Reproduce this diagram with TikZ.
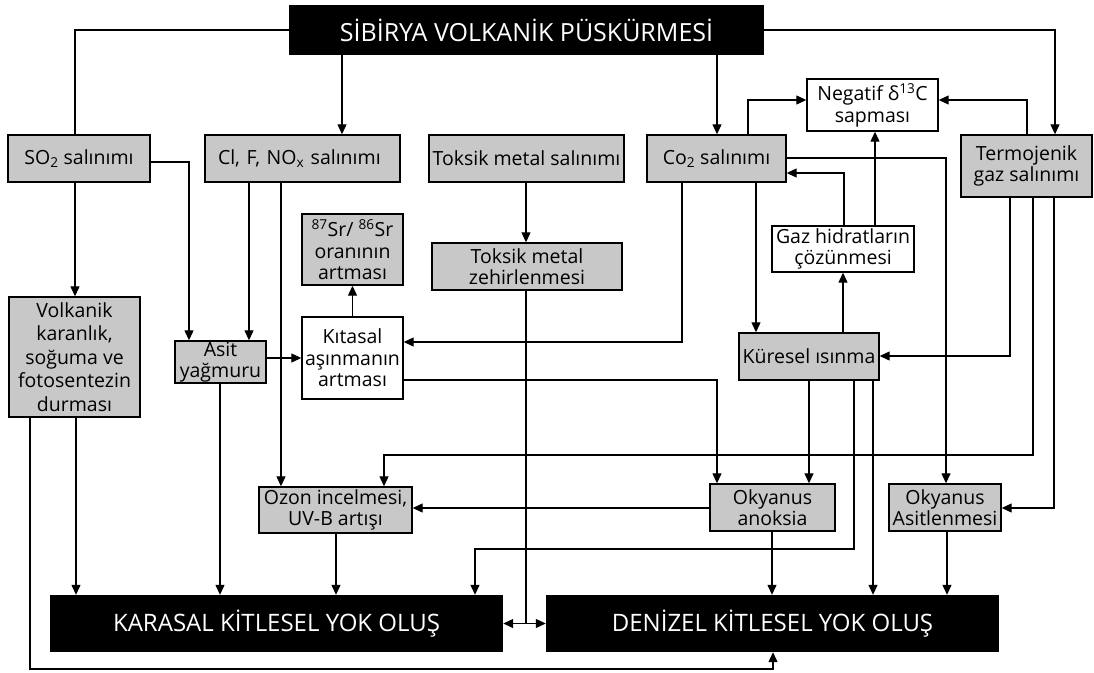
\documentclass[tikz,border=0pt]{standalone}
\usepackage{fontspec}
\setmainfont{Open Sans}
\usetikzlibrary{arrows.meta}
\definecolor{boxgray}{RGB}{200,200,200}
\tikzset{
 base/.style={draw=black, line width=1.4pt, align=center, inner sep=0pt, font=\fontsize{19.5}{21.5}\selectfont},
 gbox/.style={base, fill=boxgray},
 wbox/.style={base, fill=white},
 bbox/.style={fill=black, text=white, inner sep=0pt, font=\fontsize{24}{28}\selectfont},
 ln/.style={line width=1.2pt},
 arr/.style={ln, -{Triangle[length=10pt,width=9pt]}},
 dbl/.style={ln, {Triangle[length=10pt,width=9pt]}-{Triangle[length=10pt,width=9pt]}},
}
\begin{document}
\begin{tikzpicture}[x=1pt,y=-1pt]
\fill[white] (0,0) rectangle (1094,672);
\useasboundingbox (0,0) rectangle (1094,672);
% nodes
\node[bbox, minimum width=475pt, minimum height=50pt, font=\fontsize{25}{29}\selectfont] (top) at (526.5,30) {SİBİRYA VOLKANİK PÜSKÜRMESİ};
\node[gbox, minimum width=142pt, minimum height=47pt] (so2) at (79,158.5) {SO\textsubscript{2} salınımı};
\node[gbox, minimum height=47pt, text width=169pt, inner xsep=13pt, align=left] (cl) at (302.5,158.5) {Cl, F, NO\textsubscript{x} salınımı};
\node[gbox, minimum width=195pt, minimum height=47pt] (toks) at (526.5,158.5) {Toksik metal salınımı};
\node[gbox, minimum width=139pt, minimum height=47pt] (co2) at (716.5,158.5) {Co\textsubscript{2} salınımı};
\node[wbox, minimum width=131pt, minimum height=52pt] (neg) at (872.5,105) {Negatif δ\textsuperscript{13}C\\sapması};
\node[gbox, minimum width=131pt, minimum height=62pt] (term) at (1026.5,166) {Termojenik\\gaz salınımı};
\node[gbox, minimum width=101pt, minimum height=71pt] (sr) at (352.5,249.5) {\textsuperscript{87}Sr/ \textsuperscript{86}Sr\\oranının\\artması};
\node[gbox, minimum width=190pt, minimum height=47pt] (toxz) at (527,266.5) {Toksik metal\\zehirlenmesi};
\node[wbox, minimum width=142pt, minimum height=46pt] (gaz) at (843,249) {Gaz hidratların\\çözünmesi};
\node[gbox, minimum width=131pt, minimum height=120pt, font=\fontsize{19.5}{23.5}\selectfont] (volk) at (74.5,357) {Volkanik\\karanlık,\\soğuma ve\\fotosentezin\\durması};
\node[gbox, minimum width=91pt, minimum height=42pt] (asit) at (220.5,362) {Asit\\yağmuru};
\node[wbox, minimum width=101pt, minimum height=82pt] (kit) at (352.5,358) {Kıtasal\\aşınmanın\\artması};
\node[gbox, minimum width=140pt, minimum height=47pt] (kur) at (809,356.5) {Küresel ısınma};
\node[gbox, minimum width=153pt, minimum height=46pt] (ozon) at (335.5,510) {Ozon incelmesi,\\UV-B artışı};
\node[gbox, minimum width=125pt, minimum height=47pt] (anok) at (772.5,507.5) {Okyanus\\anoksia};
\node[gbox, minimum width=112pt, minimum height=47pt] (asitl) at (945,507.5) {Okyanus\\Asitlenmesi};
\node[bbox, minimum width=453pt, minimum height=57pt] (kar) at (276.5,623.5) {KARASAL KİTLESEL YOK OLUŞ};
\node[bbox, minimum width=453pt, minimum height=57pt] (den) at (772.5,623.5) {DENİZEL KİTLESEL YOK OLUŞ};
% connectors from top
\draw[ln] (top.west) -| (so2.north -| 75,0);
\draw[arr] (top.south -| 342,0) -- (cl.north -| 342,0);
\draw[arr] (top.south -| 717,0) -- (co2.north -| 717,0);
\draw[arr] (top.east) -| (term.north -| 1055,0);
% negatif
\draw[arr] (co2.north -| 748,0) |- (neg.west |- 0,100);
\draw[arr] (term.north -| 1027,0) |- (neg.east |- 0,100);
\draw[arr] (gaz.north -| 875,0) -- (neg.south -| 875,0);
\draw[arr] (gaz.north -| 844,0) |- (co2.east |- 0,173);
% co2
\draw[arr] (co2.east |- 0,158) -| (asitl.north -| 946,0);
\draw[arr] (co2.south -| 682,0) |- (kit.east |- 0,342);
\draw[arr] (co2.south -| 756,0) -- (kur.north -| 756,0);
\draw[arr] (kur.north -| 843,0) -- (gaz.south -| 843,0);
% termojenik
\draw[arr] (term.south -| 1010,0) |- (kur.east |- 0,356);
\draw[arr] (term.south -| 1033,0) |- (384,455) -- (ozon.north -| 384,0);
\draw[arr] (term.south -| 1054,0) |- (asitl.east |- 0,508);
% left side
\draw[arr] (so2.south -| 75,0) -- (volk.north -| 75,0);
\draw[arr] (so2.east |- 0,162) -| (asit.north -| 189,0);
\draw[arr] (cl.south -| 249,0) -- (asit.north -| 249,0);
\draw[arr] (cl.south -| 281,0) -- (ozon.north -| 281,0);
\draw[arr] (asit.east |- 0,358) -- (kit.west |- 0,358);
\draw[arr] (kit.north) -- (sr.south);
\draw[arr] (toks.south -| 526,0) -- (toxz.north -| 526,0);
\draw[ln] (toxz.south -| 526,0) -- (kar.east -| 526,0);
\draw[dbl] (kar.east) -- (den.west);
\draw[arr] (asit.south -| 220,0) -- (kar.north -| 220,0);
\draw[arr] (volk.south -| 76,0) -- (kar.north -| 76,0);
\draw[arr] (volk.south -| 30,0) |- (773,669) -- (den.south -| 773,0);
\draw[arr] (ozon.south -| 336,0) -- (kar.north -| 336,0);
% middle / right lower
\draw[arr] (kit.east |- 0,380) -| (anok.north -| 717,0);
\draw[arr] (kur.south -| 809,0) -- (anok.north -| 809,0);
\draw[arr] (kur.south -| 854,0) |- (475,549) -- (kar.north -| 475,0);
\draw[arr] (kur.south -| 873,0) -- (den.north -| 873,0);
\draw[arr] (anok.west |- 0,508) -- (ozon.east |- 0,508);
\draw[arr] (anok.south -| 772,0) -- (den.north -| 772,0);
\draw[arr] (asitl.south -| 947,0) -- (den.north -| 947,0);
\end{tikzpicture}
\end{document}
